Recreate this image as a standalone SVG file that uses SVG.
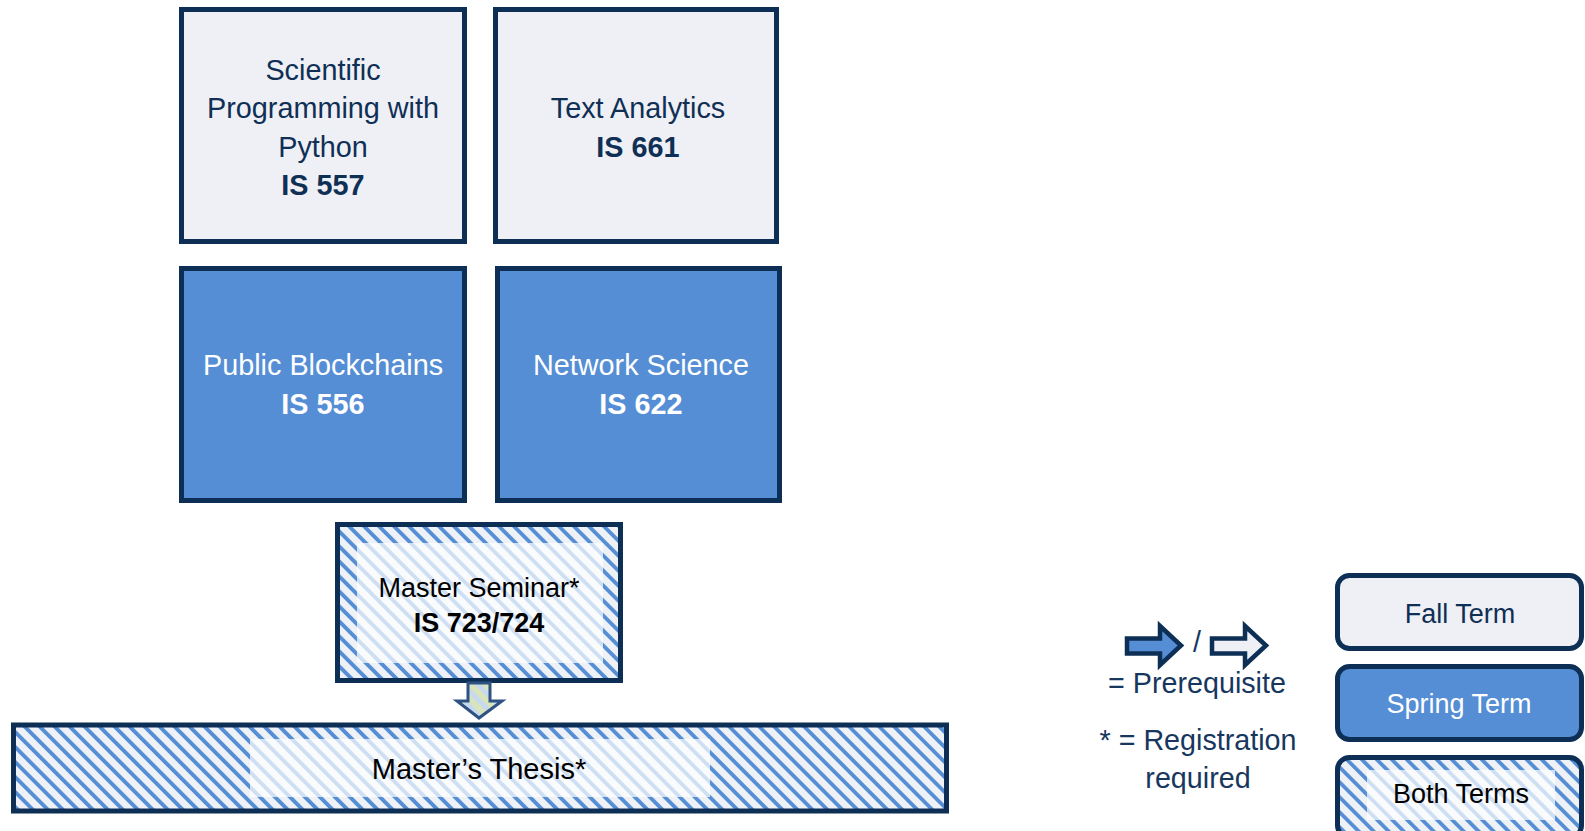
<svg xmlns="http://www.w3.org/2000/svg" width="1585" height="831" viewBox="0 0 1585 831">
<style>
.box{stroke:#0e2f55;stroke-width:5}
.fall{fill:#eef0f5}
.spring{fill:#558ed5}
.both{fill:url(#hatch)}
.veil{fill:#ffffff;fill-opacity:0.72}
text{font-family:"Liberation Sans",Arial,sans-serif;text-anchor:middle}
.t{font-size:28.8px}
.b{font-weight:bold}
.dk{fill:#0f2f55}
.wh{fill:#ffffff}
.bk{fill:#000000}
.s{font-size:27px}
.lg{font-size:28.7px;fill:#17375e}
</style>
<defs>
<pattern id="hatch" patternUnits="userSpaceOnUse" width="10.6" height="10.6" patternTransform="rotate(-45)">
<rect width="10.6" height="10.6" fill="#eef1f6"/>
<rect x="0" y="0" width="3.8" height="10.6" fill="#558ed5"/>
</pattern>
<pattern id="arrowHatch" patternUnits="userSpaceOnUse" width="10.6" height="10.6" patternTransform="rotate(-45)">
<rect width="10.6" height="10.6" fill="#d8e4bc"/>
<rect x="0" y="0" width="4.5" height="10.6" fill="#c6d9f1"/>
</pattern>
</defs>
<rect width="1585" height="831" fill="#ffffff"/>

<g id="node-is557">
<rect class="box fall" x="181.5" y="9.5" width="283" height="232"/>
<text class="t dk" x="323" y="80">Scientific</text>
<text class="t dk" x="323" y="118">Programming with</text>
<text class="t dk" x="323" y="157">Python</text>
<text class="t b dk" x="323" y="195">IS 557</text>
</g>

<g id="node-is661">
<rect class="box fall" x="495.5" y="9.5" width="281" height="232"/>
<text class="t dk" x="638" y="118">Text Analytics</text>
<text class="t b dk" x="638" y="157">IS 661</text>
</g>

<g id="node-is556">
<rect class="box spring" x="181.5" y="268.5" width="283" height="232"/>
<text class="t wh" x="323" y="375">Public Blockchains</text>
<text class="t b wh" x="323" y="414">IS 556</text>
</g>

<g id="node-is622">
<rect class="box spring" x="497.5" y="268.5" width="282" height="232"/>
<text class="t wh" x="641" y="375">Network Science</text>
<text class="t b wh" x="641" y="414">IS 622</text>
</g>

<g id="node-is723">
<rect class="box both" x="337.5" y="524.5" width="283" height="156"/>
<rect class="veil" x="357" y="543" width="246" height="120"/>
<text class="s bk" x="479" y="597">Master Seminar*</text>
<text class="s b bk" x="479" y="632">IS 723/724</text>
</g>

<g id="node-thesis">
<rect class="box both" x="13.5" y="725" width="933" height="86"/>
<rect class="veil" x="250" y="739" width="460" height="58"/>
<text class="bk" style="font-size:29px" x="479" y="779">Master’s Thesis*</text>
</g>

<g id="connectors">
<path d="M468,683 L490,683 L490,701 L502,701 L479,718 L457,701 L468,701 Z" fill="url(#arrowHatch)" stroke="#2f5283" stroke-width="3" stroke-linejoin="miter"/>
</g>

<g id="legend-arrows">
<path d="M1127,638.5 L1160,638.5 L1160,626 L1181,645.5 L1160,665 L1160,653.5 L1127,653.5 Z" fill="#558ed5" stroke="#0e2f55" stroke-width="4.5"/>
<text class="lg" x="1197" y="652">/</text>
<path d="M1212,638.5 L1245,638.5 L1245,626 L1266,645.5 L1245,665 L1245,653.5 L1212,653.5 Z" fill="#eef0f5" stroke="#0e2f55" stroke-width="4.5"/>
<text class="lg" x="1197" y="693">= Prerequisite</text>
<text class="lg" x="1198" y="750">* = Registration</text>
<text class="lg" x="1198" y="788">required</text>
</g>

<g id="legend-fall">
<rect class="box fall" x="1337.5" y="575.5" width="244" height="73" rx="12"/>
<text class="s dk" x="1460" y="623">Fall Term</text>
</g>

<g id="legend-spring">
<rect class="box spring" x="1337.5" y="666.5" width="244" height="73" rx="12"/>
<text class="s wh" x="1459" y="713">Spring Term</text>
</g>

<g id="legend-both">
<rect class="box both" x="1337.5" y="757.5" width="244" height="80" rx="12"/>
<rect class="veil" x="1367" y="770" width="188" height="50"/>
<text class="s bk" x="1461" y="803">Both Terms</text>
</g>
</svg>
